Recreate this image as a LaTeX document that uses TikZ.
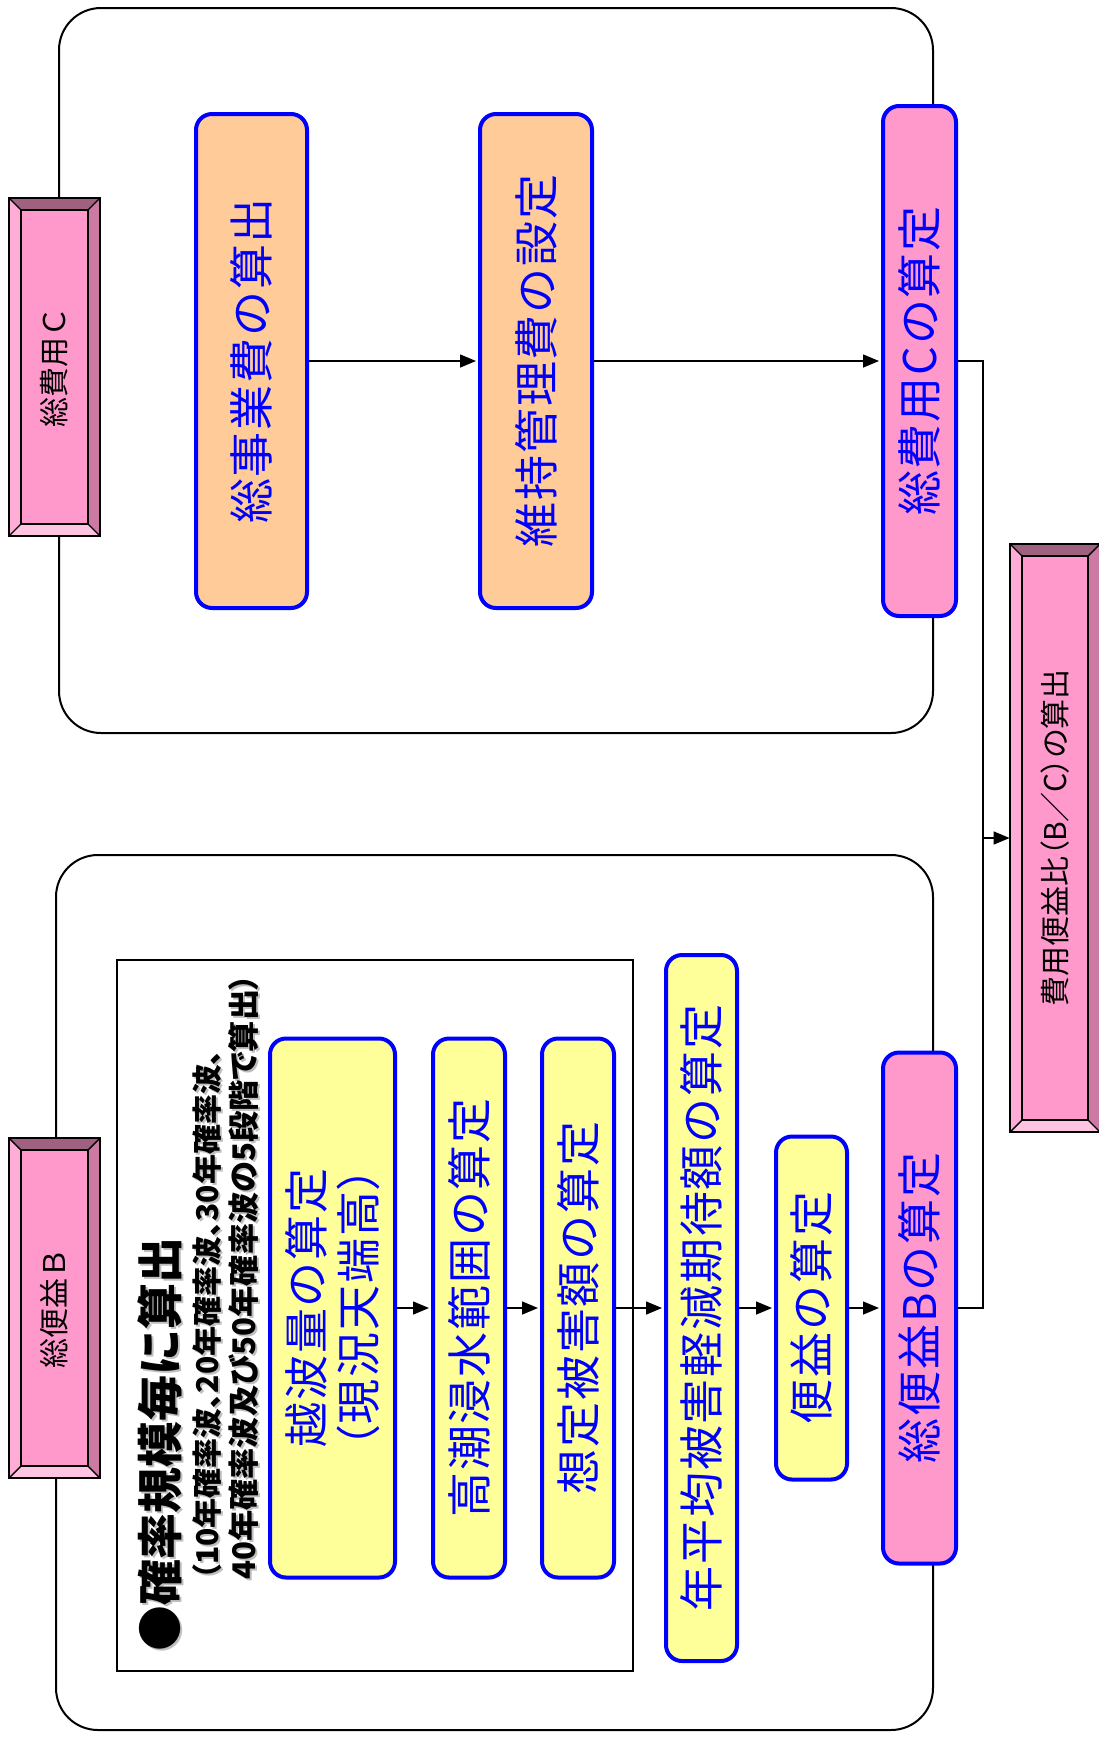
\documentclass[tikz,border=0pt]{standalone}
\usepackage{fontspec}
\usetikzlibrary{arrows.meta}
\newfontfamily\jp{Noto Sans CJK JP}
\newfontfamily\jpls[LetterSpace=4]{Noto Sans CJK JP}
\newfontfamily\jpp[RawFeature=+palt]{Noto Sans CJK JP}
\newfontfamily\jppl[LetterSpace=4,RawFeature=+palt]{Noto Sans CJK JP}
\definecolor{boxblue}{HTML}{0000FF}
\definecolor{peach}{HTML}{FFCC99}
\definecolor{lemon}{HTML}{FFFF99}
\definecolor{rose}{HTML}{FF99CC}
\definecolor{bvtop}{HTML}{A0607F}
\definecolor{bvright}{HTML}{CC7AA3}
\definecolor{bvleft}{HTML}{FFADD6}
\definecolor{bvbot}{HTML}{FFC4E1}
\newcommand\badge[6]{%
  \fill[rose] (#2,#3) rectangle (#4,#5);
  \fill[bvtop] (#2,#3) -- (#4,#3) -- ({#4-12},{#3+12}) -- ({#2+12},{#3+12}) -- cycle;
  \fill[bvbot] (#2,#5) -- (#4,#5) -- ({#4-12},{#5-12}) -- ({#2+12},{#5-12}) -- cycle;
  \fill[bvleft] (#2,#3) -- ({#2+12},{#3+12}) -- ({#2+12},{#5-12}) -- (#2,#5) -- cycle;
  \fill[bvright] (#4,#3) -- ({#4-12},{#3+12}) -- ({#4-12},{#5-12}) -- (#4,#5) -- cycle;
  \draw[bvline] (#2,#3) rectangle (#4,#5);
  \draw[bvline] ({#2+12},{#3+12}) rectangle ({#4-12},{#5-12});
  \draw[bvline] (#2,#3) -- ({#2+12},{#3+12}) (#4,#3) -- ({#4-12},{#3+12})
     (#2,#5) -- ({#2+12},{#5-12}) (#4,#5) -- ({#4-12},{#5-12});
  \node[badgetext, minimum width={(#5-#3)*0.5pt}, minimum height={(#4-#2)*0.5pt}]
     (#1) at ({(#2+#4)/2},{(#3+#5)/2}) {#6};
}
\begin{document}
\begin{tikzpicture}[x=0.5pt,y=-0.5pt,
  procbox/.style={draw=boxblue, line width=2pt, rounded corners=8pt, rotate=90,
    inner sep=0pt, text=boxblue, align=center,
    font=\jpls\fontsize{22.5}{26}\selectfont},
  grp/.style={draw=black, line width=1pt, rounded corners=21pt},
  innerbox/.style={draw=black, line width=1pt},
  bvline/.style={draw=black, line width=0.7pt},
  badgetext/.style={rotate=90, inner sep=0pt, text=black,
    font=\jp\fontsize{15}{18}\selectfont},
  conn/.style={line width=0.75pt},
  arr/.style={conn, -{Triangle[length=8pt,width=6.5pt]}, shorten >=1pt},
  arrb/.style={conn, -{Triangle[length=8pt,width=6.5pt]}},
  ttl/.style={rotate=90, anchor=west, inner sep=0pt,
    font=\jp\bfseries\fontsize{23}{27}\selectfont},
  subA/.style={rotate=90, anchor=west, inner sep=0pt,
    font=\jpp\bfseries\fontsize{15}{18}\selectfont},
  subB/.style={rotate=90, anchor=west, inner sep=0pt,
    font=\jpp\bfseries\fontsize{15.6}{18}\selectfont},
  shadowtext/.style={text=black!25}
]
\useasboundingbox (0,0) rectangle (1098,1740);

% group frames
\draw[grp] (59,8) rectangle (933,733);
\draw[grp] (56,855) rectangle (933,1730);
\draw[innerbox] (117,960) rectangle (633,1671);

% bevelled badges
\badge{bC}{9}{198}{100}{536}{総費用Ｃ}
\badge{bB}{9}{1138}{100}{1478}{総便益Ｂ}
\badge{bBC}{1010}{544}{1100}{1132}{{\jpp 費用便益比（B／C）の算出}}

% title block
\node[ttl, shadowtext] (ts0) at (162,1654) {●確率規模毎に算出};
\node[subA, shadowtext] (ts1) at (209,1582) {（10年確率波、20年確率波、30年確率波、};
\node[subB, shadowtext] (ts2) at (246,1582) {40年確率波及び50年確率波の5段階で算出）};
\node[ttl] (t0) at (160,1652) {●確率規模毎に算出};
\node[subA] (t1) at (207,1580) {（10年確率波、20年確率波、30年確率波、};
\node[subB] (t2) at (244,1580) {40年確率波及び50年確率波の5段階で算出）};

% cost boxes
\node[procbox, fill=peach, minimum width=247pt, minimum height=55.5pt] (c1) at (251.5,361) {総事業費の算出};
\node[procbox, fill=peach, minimum width=247pt, minimum height=56pt] (c2) at (536,361) {維持管理費の設定};
\node[procbox, fill=rose, minimum width=255pt, minimum height=36.5pt] (c3) at (919.5,361) {総費用Cの算定};

% benefit boxes
\node[procbox, fill=lemon, minimum width=269.5pt, minimum height=62.5pt] (b1) at (332.5,1308) {越波量の算定\\{\jppl（現況天端高）}};
\node[procbox, fill=lemon, minimum width=269.5pt, minimum height=36pt] (b2) at (469,1308) {高潮浸水範囲の算定};
\node[procbox, fill=lemon, minimum width=269.5pt, minimum height=36pt] (b3) at (578,1308) {想定被害額の算定};
\node[procbox, fill=lemon, minimum width=353pt, minimum height=35.5pt] (b4) at (701.5,1308) {年平均被害軽減期待額の算定};
\node[procbox, fill=lemon, minimum width=171.5pt, minimum height=35.5pt] (b5) at (811.5,1308) {便益の算定};
\node[procbox, fill=rose, minimum width=255.5pt, minimum height=36.5pt] (b6) at (919.5,1308) {総便益Bの算定};

% connectors
\draw[arr] (c1.south) -- (c2.north);
\draw[arr] (c2.south) -- (c3.north);
\draw[arr] (b1.south) -- (b2.north);
\draw[arr] (b2.south) -- (b3.north);
\draw[arr] (b3.south) -- (b4.north);
\draw[arr] (b4.south) -- (b5.north);
\draw[arr] (b5.south) -- (b6.north);
\coordinate (jt) at (983,361);
\coordinate (jb) at (983,1308);
\coordinate (jm) at (983,838);
\draw[conn] (c3.south) -- (jt) -- (jb) -- (b6.south);
\draw[arrb] (jm) -- (bBC.north);
\end{tikzpicture}
\end{document}
